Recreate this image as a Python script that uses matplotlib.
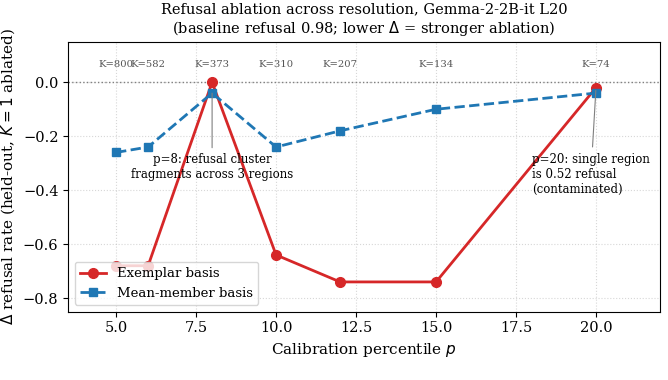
import numpy as np
import matplotlib
matplotlib.use("Agg")
import matplotlib.pyplot as plt

plt.rcParams['font.family'] = 'DejaVu Serif'
plt.rcParams['font.size'] = 11

# calibration percentiles and results
percentiles = [5, 6, 8, 10, 12, 15, 20]
k_values = [800, 582, 373, 310, 207, 134, 74]
exemplar = [-0.68, -0.68, 0.0, -0.64, -0.74, -0.74, -0.02]
mean_member = [-0.26, -0.24, -0.04, -0.24, -0.18, -0.10, -0.04]

fig, ax = plt.subplots(figsize=(6.68, 3.8), dpi=100)

ax.axhline(0, color='grey', linestyle=':', linewidth=1)
ax.plot(percentiles, exemplar, '-o', color='#d62728', linewidth=2,
        markersize=7, label='Exemplar basis', zorder=3)
ax.plot(percentiles, mean_member, '--s', color='#1f77b4', linewidth=2,
        markersize=6, label='Mean-member basis', zorder=3)

for p, k in zip(percentiles, k_values):
    ax.text(p, 0.05, "K=%d" % k, ha='center', va='bottom', fontsize=7.2, color='#555555')

ax.annotate("p=8: refusal cluster\nfragments across 3 regions", xy=(8, -0.03),
            xytext=(8, -0.315), ha='center', va='center', fontsize=8.5,
            arrowprops=dict(arrowstyle='-', color='grey', lw=0.8))
ax.annotate("p=20: single region\nis 0.52 refusal\n(contaminated)", xy=(20, -0.02),
            xytext=(18.0, -0.34), ha='left', va='center', fontsize=8.5,
            arrowprops=dict(arrowstyle='-', color='grey', lw=0.8))

ax.set_xlim(3.5, 22)
ax.set_ylim(-0.85, 0.15)
ax.tick_params(labelsize=10.5)
ax.grid(True, linestyle=':', alpha=0.5)
ax.set_xlabel("Calibration percentile $p$")
ax.set_ylabel(r"$\Delta$ refusal rate (held-out, $K = 1$ ablated)")
ax.set_title("Refusal ablation across resolution, Gemma-2-2B-it L20\n"
             r"(baseline refusal 0.98; lower $\Delta$ = stronger ablation)", fontsize=10.5)
ax.legend(loc='lower left', fontsize=9.5)

fig.subplots_adjust(left=0.102, right=0.988, top=0.89, bottom=0.18)
fig.savefig("out.png")
